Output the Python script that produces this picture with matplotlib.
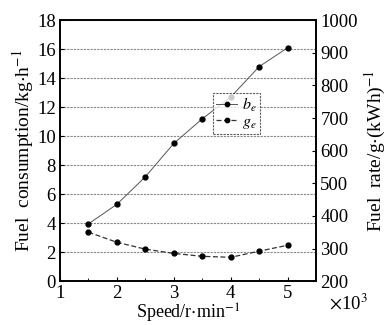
import matplotlib
matplotlib.use('Agg')
import matplotlib.pyplot as plt

# data
speed = [1.5, 2.0, 2.5, 3.0, 3.5, 4.0, 4.5, 5.0]          # x10^3 r/min
fuel_consumption = [3.95, 5.3, 7.2, 9.5, 11.2, 12.7, 14.8, 16.1]   # kg/h (b_e)
fuel_rate = [350, 319, 298, 285, 276, 273, 292, 310]                # g/(kWh) (g_e)

plt.rcParams['font.family'] = ['Liberation Serif', 'DejaVu Serif']
plt.rcParams['mathtext.fontset'] = 'stix'

fig = plt.figure(figsize=(3.87, 3.25), dpi=100)
ax = fig.add_axes([0.155, 0.135, 0.662, 0.803])
ax2 = ax.twinx()

l1, = ax.plot(speed, fuel_consumption, '-', color='#555555', lw=0.7,
              marker='o', ms=3.5, mfc='black', mec='black')
l2, = ax2.plot(speed, fuel_rate, '--', color='#333333', lw=0.9,
               marker='o', ms=3.5, mfc='black', mec='black', dashes=(4, 2))

ax.set_xlim(1, 5.5)
ax.set_ylim(0, 18)
ax2.set_ylim(200, 1000)
ax.set_xticks([1, 2, 3, 4, 5])
ax.set_yticks(range(0, 19, 2))
ax2.set_yticks(range(200, 1001, 100))
ax.set_xticks([1.5, 2.5, 3.5, 4.5, 5.5], minor=True)

ax.yaxis.grid(True, ls=(0, (2, 1)), color='#888888', lw=0.8)
for a in (ax, ax2):
    a.tick_params(direction='in', labelsize=13.5, length=3, width=0.8, pad=3)
    for s in a.spines.values():
        s.set_linewidth(1.2)
ax.tick_params(which='minor', direction='in', length=2)
ax.tick_params(axis='x', pad=3)

ax.set_xlabel('Speed/r$\\cdot$min$^{-1}$', fontsize=13, labelpad=0)
ax.set_ylabel('Fuel  consumption/kg$\\cdot$h$^{-1}$', fontsize=14, labelpad=1)
ax2.set_ylabel('Fuel  rate/g$\\cdot$(kWh)$^{-1}$', fontsize=14, labelpad=4)
ax.text(1.05, -0.045, '$\\times$10$^3$', transform=ax.transAxes, fontsize=13.5,
        ha='left', va='top')

leg = ax.legend([l1, l2], ['$b_e$', '$g_e$'], loc='center left',
                bbox_to_anchor=(0.598, 0.643), fontsize=11.5, frameon=True,
                fancybox=False, edgecolor='#333333', handlelength=1.3,
                handletextpad=0.3, borderpad=0.2, labelspacing=0.0,
                borderaxespad=0, markerscale=0.9)
leg.get_frame().set_linewidth(0.8)
leg.get_frame().set_linestyle((0, (2, 1)))

fig.savefig('out.png', dpi=100)
